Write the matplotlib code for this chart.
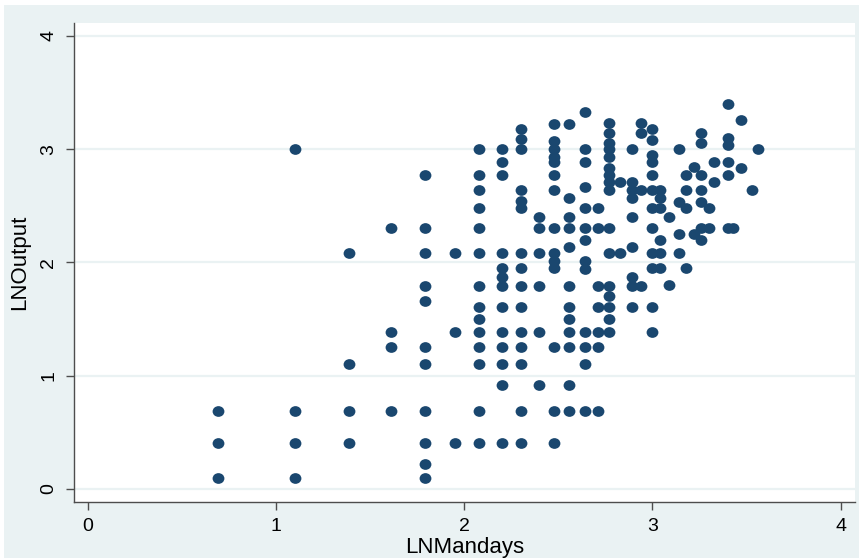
"""Scatter of LNOutput against LNMandays, Stata s2color look."""

import matplotlib

matplotlib.use("Agg")
import matplotlib.pyplot as plt
from matplotlib.path import Path
from matplotlib.patches import Rectangle
from matplotlib.transforms import Affine2D


# one line per LNMandays column
LN_MANDAYS = (
    [0.69] * 3
    + [1.10] * 4
    + [1.39] * 4
    + [1.61] * 4
    + [1.79] * 11
    + [1.95] * 3
    + [2.08] * 14
    + [2.20] * 13
    + [2.30] * 15
    + [2.40] * 6
    + [2.48] * 14
    + [2.56] * 12
    + [2.64] * 13
    + [2.71] * 7
    + [2.77] * 16
    + [2.83] * 2
    + [2.89] * 9
    + [2.94] * 4
    + [3.00] * 12
    + [3.04] * 6
    + [3.09] * 2
    + [3.14] * 4
    + [3.18] * 4
    + [3.22] * 2
    + [3.26] * 7
    + [3.30] * 2
    + [3.33] * 2
    + [3.40] * 6
    + [3.43] * 1
    + [3.47] * 2
    + [3.53] * 1
    + [3.56] * 1
)

LN_OUTPUT = [
    0.69, 0.41, 0.10,
    3.00, 0.69, 0.41, 0.10,
    2.08, 1.10, 0.69, 0.41,
    2.30, 1.39, 1.25, 0.69,
    2.77, 2.30, 2.08, 1.79, 1.66, 1.25, 1.10, 0.69, 0.41, 0.22, 0.10,
    2.08, 1.39, 0.41,
    3.00, 2.77, 2.64, 2.48, 2.30, 2.08, 1.79, 1.61, 1.50, 1.39, 1.25, 1.10, 0.69, 0.41,
    3.00, 2.89, 2.77, 2.08, 1.95, 1.87, 1.79, 1.61, 1.39, 1.25, 1.10, 0.92, 0.41,
    3.18, 3.09, 3.00, 2.64, 2.54, 2.48, 2.08, 1.95, 1.79, 1.61, 1.39, 1.25, 1.10, 0.69, 0.41,
    2.40, 2.30, 2.08, 1.79, 1.39, 0.92,
    3.22, 3.07, 3.00, 2.93, 2.89, 2.77, 2.64, 2.30, 2.08, 2.01, 1.95, 1.25, 0.69, 0.41,
    3.22, 2.57, 2.40, 2.30, 2.14, 1.79, 1.61, 1.50, 1.39, 1.25, 0.92, 0.69,
    3.33, 3.00, 2.89, 2.67, 2.48, 2.30, 2.20, 2.01, 1.94, 1.39, 1.25, 1.10, 0.69,
    2.48, 2.30, 1.79, 1.61, 1.39, 1.25, 0.69,
    3.23, 3.14, 3.05, 3.00, 2.93, 2.83, 2.77, 2.71, 2.64, 2.30, 2.08, 1.79, 1.70, 1.61, 1.50, 1.39,
    2.71, 2.08,
    3.00, 2.71, 2.64, 2.57, 2.40, 2.14, 1.87, 1.79, 1.61,
    3.23, 3.14, 2.64, 1.79,
    3.18, 3.08, 2.95, 2.89, 2.77, 2.64, 2.48, 2.30, 2.08, 1.95, 1.61, 1.39,
    2.64, 2.57, 2.48, 2.20, 2.08, 1.95,
    2.40, 1.80,
    3.00, 2.53, 2.25, 2.08,
    2.77, 2.64, 2.48, 1.95,
    2.84, 2.25,
    3.14, 3.05, 2.77, 2.64, 2.53, 2.30, 2.20,
    2.48, 2.30,
    2.89, 2.71,
    3.40, 3.10, 3.04, 2.89, 2.77, 2.30,
    2.30,
    3.26, 2.83,
    2.64,
    3.00,
]

X_TICKS = [0, 1, 2, 3, 4]
Y_TICKS = [0, 1, 2, 3, 4]

MARKER_COLOR = "#1A476F"
OUTER_BG = "#EAF2F3"
GRID_COLOR = "#EAF2F3"
AXIS_COLOR = "#4D4D4D"

W, H = 863, 560

plt.rcParams["font.family"] = ["Liberation Sans", "DejaVu Sans"]

fig = plt.figure(figsize=(W / 100, H / 100), dpi=100)
fig.patch.set_facecolor("white")
# light graph region with a thin white margin, as Stata draws it
fig.patches.append(
    Rectangle((4 / W, 1 - 558 / H), (859 - 4) / W, (558 - 5) / H,
              transform=fig.transFigure, facecolor=OUTER_BG, edgecolor="none", zorder=-5)
)

left, right, top, bottom = 73.7, 855, 22.7, 501.7
ax = fig.add_axes([left / W, 1 - bottom / H, (right - left) / W, (bottom - top) / H])
ax.set_facecolor("white")

ellipse = Path.unit_circle().transformed(Affine2D().scale(1.1, 1.0))
ax.plot(LN_MANDAYS, LN_OUTPUT, linestyle="none", marker=ellipse,
        markersize=8.5, markeredgewidth=0, color=MARKER_COLOR, zorder=3)

ax.set_xlim(-0.0744, 4.077)
ax.set_ylim(-0.112, 4.116)
ax.set_xticks(X_TICKS)
ax.set_yticks(Y_TICKS)
ax.set_yticklabels([str(t) for t in Y_TICKS], rotation=90, va="center")

ax.grid(axis="y", color=GRID_COLOR, linewidth=1.6, zorder=1)
ax.grid(axis="x", visible=False)

for side in ("top", "right"):
    ax.spines[side].set_visible(False)
for side in ("left", "bottom"):
    ax.spines[side].set_color(AXIS_COLOR)
    ax.spines[side].set_linewidth(1.0)

ax.tick_params(axis="both", direction="out", length=6, width=1.0,
               color=AXIS_COLOR, labelsize=14, labelcolor="black")
ax.tick_params(axis="y", pad=6)
ax.tick_params(axis="x", pad=6)

ax.set_xlabel("LNMandays", fontsize=16, labelpad=1)
ax.set_ylabel("LNOutput", fontsize=16, labelpad=7)

fig.savefig("out.png", dpi=100)
